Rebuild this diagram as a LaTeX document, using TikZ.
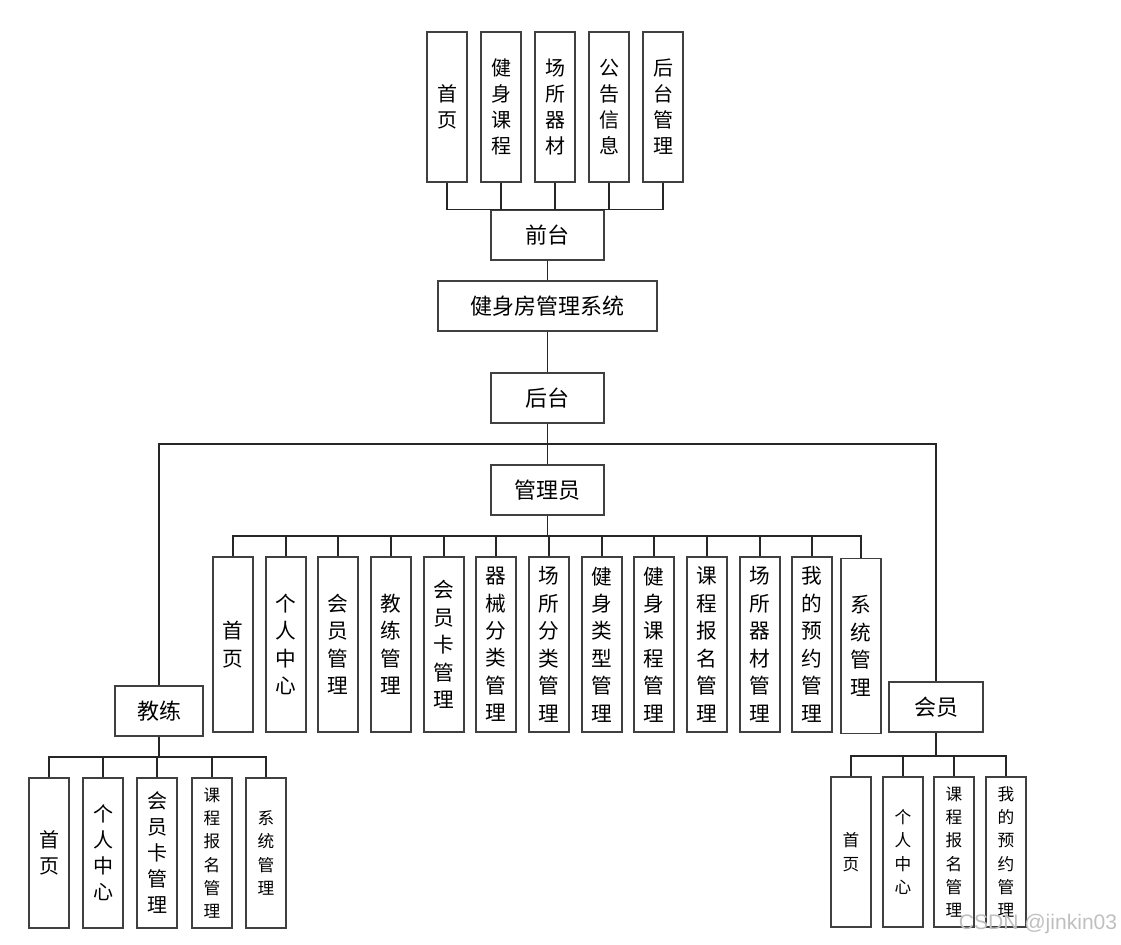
\documentclass[tikz,border=0pt]{standalone}
\usepackage{fontspec}
\setmainfont{Noto Sans CJK SC}
\newfontfamily\wmfont{Liberation Sans}

\begin{document}
\begin{tikzpicture}[x=0.75pt, y=-0.75pt,
  hbox/.style={draw=black!75, line width=0.9pt, minimum height=37.5pt, inner sep=0pt, font=\fontsize{16.5}{19}\selectfont},
  vbox/.style={draw=black!75, line width=0.9pt, minimum width=30pt, minimum height=112.5pt, inner sep=0pt, align=center, font=\fontsize{15}{19.5}\selectfont},
  tallbox/.style={vbox, minimum height=131.25pt, font=\fontsize{15.5}{20.6}\selectfont},
  smallbox/.style={vbox, font=\fontsize{12.5}{17.5}\selectfont},
  link/.style={draw=black!85, line width=0.8pt}]
  \useasboundingbox (0,0) rectangle (1121,945);

  % 前台
  \node[vbox] (f1) at (447,107) {首\\页};
  \node[vbox] (f2) at (501,107) {健\\身\\课\\程};
  \node[vbox] (f3) at (555,107) {场\\所\\器\\材};
  \node[vbox] (f4) at (609,107) {公\\告\\信\\息};
  \node[vbox] (f5) at (663,107) {后\\台\\管\\理};
  \node[hbox, minimum width=84.75pt] (qt) at (547.5,235) {前台};

  % 系统
  \node[hbox, minimum width=164.25pt] (sys) at (547.5,306) {健身房管理系统};
  \node[hbox, minimum width=84.75pt] (ht) at (547.5,398) {后台};

  % 角色
  \node[hbox, minimum width=84.75pt] (gly) at (547.5,490) {管理员};
  \node[hbox, minimum width=66pt] (jl) at (159,711) {教练};
  \node[hbox, minimum width=70.5pt] (hy) at (936,707) {会员};

  % 管理员
  \node[tallbox] (a1) at (233,644.5) {首\\页};
  \node[tallbox] (a2) at (286,644.5) {个\\人\\中\\心};
  \node[tallbox] (a3) at (338,644.5) {会\\员\\管\\理};
  \node[tallbox] (a4) at (391,644.5) {教\\练\\管\\理};
  \node[tallbox] (a5) at (444,644.5) {会\\员\\卡\\管\\理};
  \node[tallbox] (a6) at (496,644.5) {器\\械\\分\\类\\管\\理};
  \node[tallbox] (a7) at (549,644.5) {场\\所\\分\\类\\管\\理};
  \node[tallbox] (a8) at (602,644.5) {健\\身\\类\\型\\管\\理};
  \node[tallbox] (a9) at (654,644.5) {健\\身\\课\\程\\管\\理};
  \node[tallbox] (a10) at (707,644.5) {课\\程\\报\\名\\管\\理};
  \node[tallbox] (a11) at (760,644.5) {场\\所\\器\\材\\管\\理};
  \node[tallbox] (a12) at (812,644.5) {我\\的\\预\\约\\管\\理};
  \node[tallbox] (a13) at (861,646) {系\\统\\管\\理};

  % 教练
  \node[vbox] (c1) at (49,853) {首\\页};
  \node[vbox] (c2) at (103,853) {个\\人\\中\\心};
  \node[vbox] (c3) at (157,853) {会\\员\\卡\\管\\理};
  \node[smallbox] (c4) at (212,853) {课\\程\\报\\名\\管\\理};
  \node[smallbox] (c5) at (266,853) {系\\统\\管\\理};

  % 会员
  \node[smallbox] (m1) at (851,852) {首\\页};
  \node[smallbox] (m2) at (903,852) {个\\人\\中\\心};
  \node[smallbox] (m3) at (954,852) {课\\程\\报\\名\\管\\理};
  \node[smallbox] (m4) at (1006,852) {我\\的\\预\\约\\管\\理};

  % 连线
  \draw[link] (f1.south) |- (qt.north);
  \draw[link] (f2.south) |- (qt.north);
  \draw[link] (f3.south) |- (qt.north);
  \draw[link] (f4.south) |- (qt.north);
  \draw[link] (f5.south) |- (qt.north);
  \draw[link] (qt.south) -- (sys.north);
  \draw[link] (sys.south) -- (ht.north);
  \draw[link] (ht.south) -- (gly.north);
  \coordinate (hb) at (547.5,444);
  \draw[link] (jl.north) |- (hb) -| (hy.north);

  \coordinate (ab) at (547.5,536);
  \draw[link] (gly.south) -- (ab);
  \draw[link] (a1.north) |- (ab);
  \draw[link] (a2.north) |- (ab);
  \draw[link] (a3.north) |- (ab);
  \draw[link] (a4.north) |- (ab);
  \draw[link] (a5.north) |- (ab);
  \draw[link] (a6.north) |- (ab);
  \draw[link] (a7.north) |- (ab);
  \draw[link] (a8.north) |- (ab);
  \draw[link] (a9.north) |- (ab);
  \draw[link] (a10.north) |- (ab);
  \draw[link] (a11.north) |- (ab);
  \draw[link] (a12.north) |- (ab);
  \draw[link] (a13.north) |- (ab);

  \coordinate (cb) at (159,757);
  \draw[link] (jl.south) -- (cb);
  \draw[link] (c1.north) |- (cb);
  \draw[link] (c2.north) |- (cb);
  \draw[link] (c3.north) |- (cb);
  \draw[link] (c4.north) |- (cb);
  \draw[link] (c5.north) |- (cb);

  \coordinate (mb) at (936,756);
  \draw[link] (hy.south) -- (mb);
  \draw[link] (m1.north) |- (mb);
  \draw[link] (m2.north) |- (mb);
  \draw[link] (m3.north) |- (mb);
  \draw[link] (m4.north) |- (mb);

  % 水印
  \node[text=black!25, font=\wmfont\fontsize{15.8}{17}\selectfont] (wm) at (1038,924) {CSDN @jinkin03};
\end{tikzpicture}
\end{document}
